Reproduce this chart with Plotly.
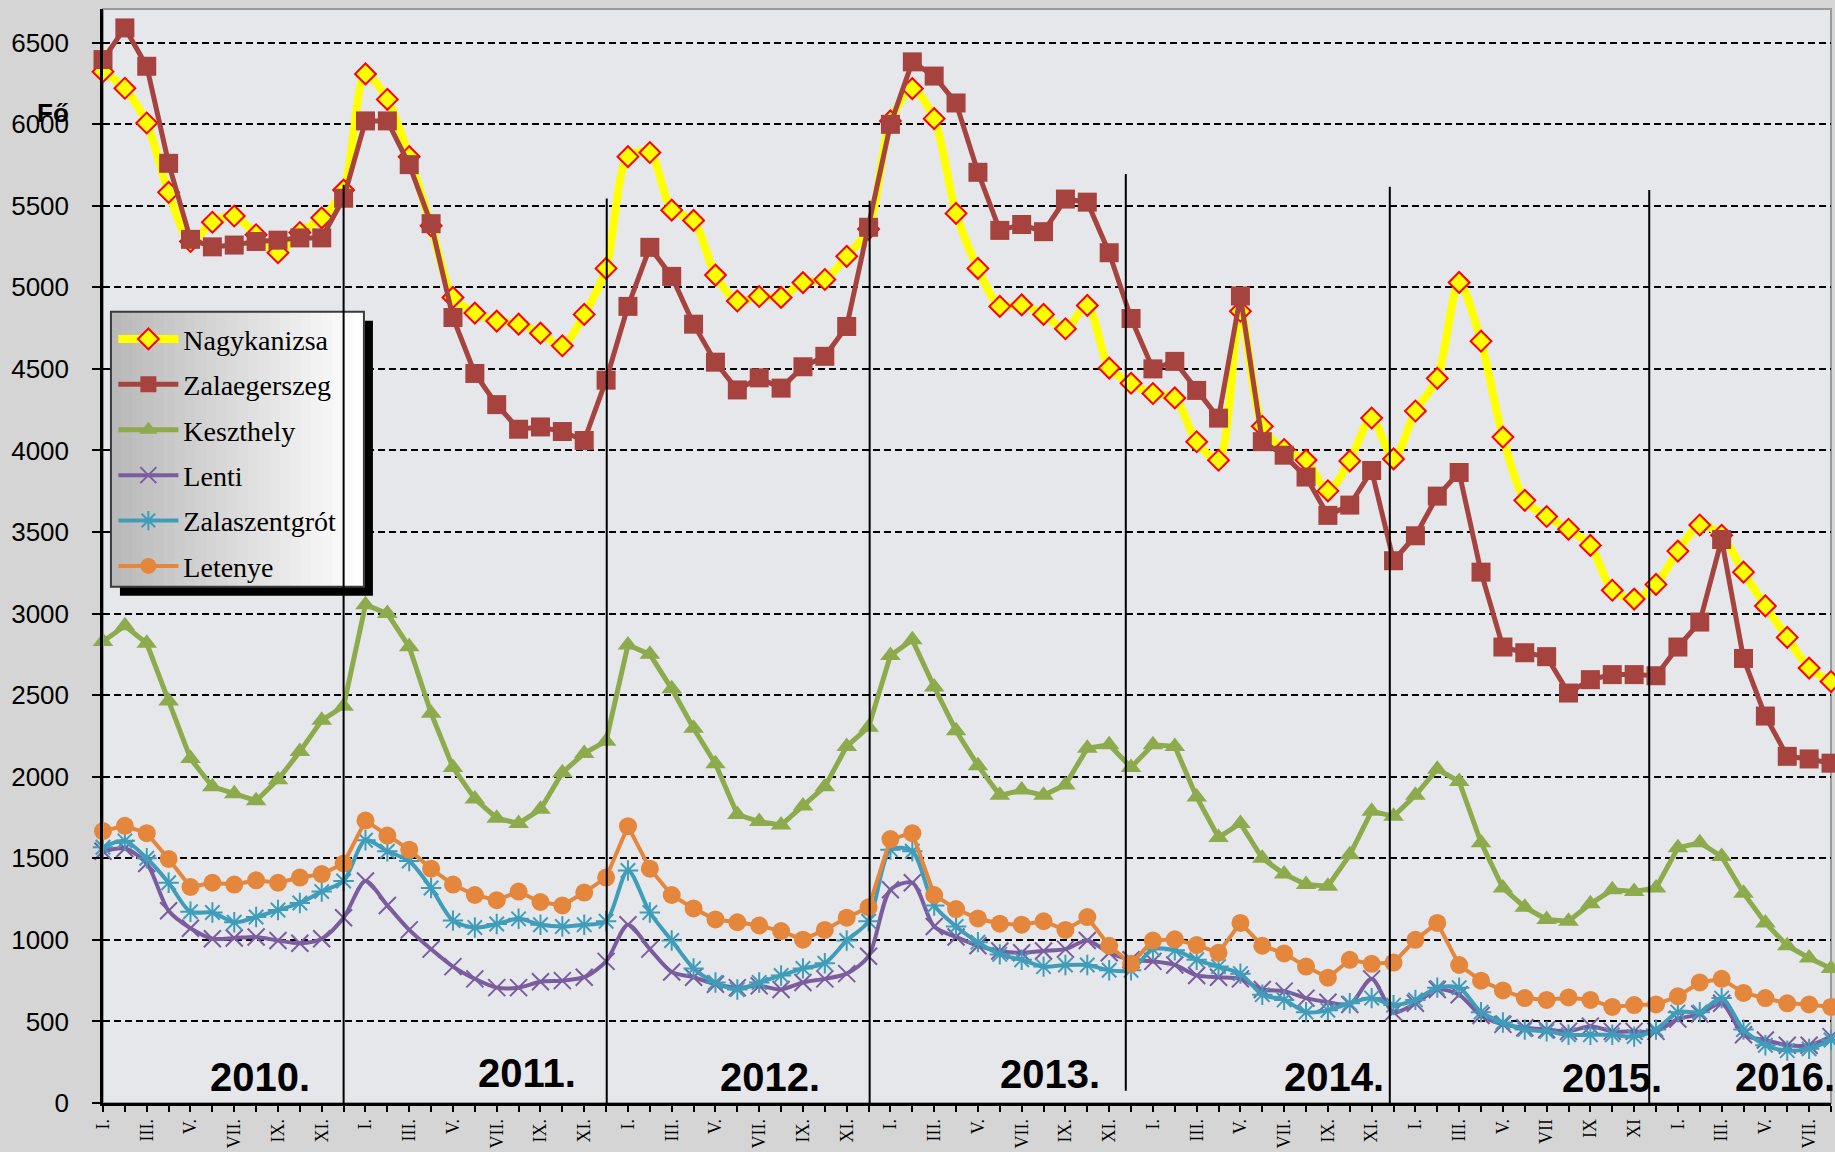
import plotly.graph_objects as go

# havi álláskeresők száma (fő), 2010. I. - 2016. VIII.
years = ["2010", "2011", "2012", "2013", "2014", "2015", "2016"]
months = ["I", "II", "III", "IV", "V", "VI", "VII", "VIII", "IX", "X", "XI", "XII"]
categories = [f"{y}-{m}" for y in years for m in months][:80]

labels_std = ["I.", "", "III.", "", "V.", "", "VII.", "", "IX.", "", "XI.", ""]
labels_2015 = ["I.", "", "III.", "", "V.", "", "VII", "", "IX", "", "XI", ""]
labels_2016 = ["I.", "", "III.", "", "V.", "", "VII.", ""]
tick_labels = labels_std * 5 + labels_2015 + labels_2016

nagykanizsa = [6322, 6220, 6007, 5582, 5281, 5399, 5437, 5322, 5212, 5336, 5426, 5596,
               6308, 6152, 5801, 5377, 4938, 4842, 4793, 4774, 4719, 4642, 4834, 5116,
               5801, 5826, 5473, 5410, 5075, 4916, 4944, 4938, 5029, 5048, 5190, 5357,
               6020, 6218, 6034, 5453, 5116, 4883, 4892, 4834, 4746, 4889, 4505, 4412,
               4349, 4322, 4053, 3940, 4853, 4148, 4006, 3941, 3752, 3936, 4199, 3948,
               4242, 4442, 5030, 4670, 4082, 3694, 3595, 3517, 3418, 3143, 3089, 3179,
               3383, 3543, 3480, 3254, 3047, 2854, 2666, 2584]
zalaegerszeg = [6396, 6590, 6355, 5760, 5294, 5248, 5259, 5281, 5289, 5303, 5303, 5546,
                6020, 6020, 5752, 5390, 4815, 4472, 4281, 4130, 4144, 4116, 4061, 4431,
                4883, 5245, 5067, 4774, 4541, 4371, 4445, 4382, 4513, 4577, 4760, 5368,
                5999, 6382, 6295, 6130, 5705, 5349, 5385, 5341, 5541, 5522, 5212, 4809,
                4500, 4546, 4368, 4198, 4947, 4054, 3971, 3837, 3602, 3665, 3877, 3324,
                3477, 3720, 3865, 3254, 2795, 2760, 2736, 2513, 2595, 2626, 2626, 2619,
                2795, 2948, 3454, 2725, 2372, 2125, 2109, 2083]
keszthely = [2829, 2925, 2818, 2464, 2111, 1939, 1896, 1853, 1982, 2154, 2346, 2432,
             3054, 3000, 2796, 2389, 2057, 1864, 1746, 1714, 1800, 2025, 2143, 2218,
             2807, 2750, 2539, 2297, 2079, 1768, 1725, 1704, 1821, 1939, 2186, 2304,
             2743, 2839, 2550, 2282, 2068, 1886, 1918, 1886, 1950, 2175, 2196, 2057,
             2196, 2186, 1875, 1628, 1714, 1500, 1403, 1339, 1329, 1521, 1789, 1757,
             1886, 2046, 1971, 1596, 1318, 1200, 1125, 1114, 1221, 1307, 1296, 1318,
             1564, 1596, 1511, 1286, 1104, 964, 889, 825]
lenti = [1543, 1560, 1468, 1178, 1071, 1007, 1011, 1018, 996, 979, 1007, 1136,
         1361, 1211, 1061, 943, 836, 761, 707, 707, 743, 750, 771, 868,
         1093, 943, 803, 771, 728, 707, 718, 696, 739, 761, 793, 900,
         1307, 1350, 1082, 1018, 964, 932, 921, 932, 943, 996, 921, 878,
         868, 846, 782, 771, 761, 696, 686, 643, 618, 604, 761, 557,
         611, 696, 664, 536, 482, 461, 450, 439, 471, 439, 439, 439,
         514, 546, 611, 418, 386, 354, 354, 407]
zalaszentgrot = [1568, 1607, 1500, 1350, 1172, 1168, 1108, 1140, 1183, 1226, 1296, 1361,
                 1611, 1543, 1483, 1318, 1118, 1076, 1097, 1129, 1093, 1082, 1093, 1114,
                 1425, 1168, 996, 825, 739, 696, 739, 782, 825, 857, 996, 1114,
                 1553, 1543, 1211, 1082, 986, 911, 878, 836, 846, 846, 814, 814,
                 943, 936, 878, 836, 793, 664, 632, 557, 568, 611, 643, 600,
                 632, 707, 707, 557, 493, 450, 439, 418, 418, 418, 407, 450,
                 557, 557, 643, 450, 354, 321, 332, 386]
letenye = [1667, 1699, 1654, 1496, 1324, 1350, 1339, 1365, 1350, 1382, 1403, 1468,
           1731, 1639, 1553, 1436, 1339, 1275, 1243, 1296, 1232, 1211, 1290, 1382,
           1697, 1436, 1275, 1193, 1125, 1108, 1088, 1054, 1001, 1061, 1136, 1200,
           1618, 1654, 1275, 1189, 1131, 1099, 1093, 1114, 1061, 1140, 964, 853,
           996, 1003, 968, 921, 1104, 964, 917, 836, 768, 878, 853, 861,
           1000, 1104, 846, 750, 690, 643, 632, 647, 632, 589, 600, 604,
           654, 739, 761, 675, 643, 611, 604, 589]

year_labels = ["2010.", "2011.", "2012.", "2013.", "2014.", "2015.", "2016."]
year_label_x = [7.2, 19.4, 30.5, 43.3, 56.3, 69.0, 76.9]
year_label_y = [160, 185, 160, 180, 160, 155, 160]
separator_x = [11, 23.03, 35.05, 46.76, 58.83, 70.69]
separator_top = [5628, 5544, 5530, 5695, 5617, 5597]
separator_bottom = [0, 0, 0, 75, 0, 0]

fig = go.Figure()

series = [
    ("Nagykanizsa", nagykanizsa, "#FFFF00", 8, "spline",
     dict(symbol="diamond", size=16, color="#FFFF00", line=dict(color="#FF0000", width=2))),
    ("Zalaegerszeg", zalaegerszeg, "#A6433F", 5, "linear",
     dict(symbol="square", size=19, color="#A6433F")),
    ("Keszthely", keszthely, "#8DAB4C", 5, "linear",
     dict(symbol="triangle-up", size=18, color="#8DAB4C")),
    ("Lenti", lenti, "#7A5C9F", 4, "spline",
     dict(symbol="x-thin-open", size=17, color="#7A5C9F", line=dict(color="#7A5C9F", width=2))),
    ("Zalaszentgrót", zalaszentgrot, "#3F9DBA", 4, "spline",
     dict(symbol="asterisk-open", size=17, color="#3F9DBA", line=dict(color="#3F9DBA", width=2))),
    ("Letenye", letenye, "#E4873D", 4, "linear",
     dict(symbol="circle", size=18, color="#E4873D")),
]

for name, values, color, width, shape, marker in series:
    fig.add_trace(go.Scatter(
        x=categories, y=values, name=name, legendgroup=name,
        mode="lines+markers",
        line=dict(color=color, width=width, shape=shape, smoothing=0.8),
        marker=marker, cliponaxis=False,
    ))

shapes = []

# jelmagyarázat árnyéka és átmenetes háttere
lx0, lx1, ly0, ly1 = 0.0046, 0.1510, 0.4719, 0.7232
shapes.append(dict(type="rect", xref="paper", yref="paper", x0=lx0 + 0.0052, x1=lx1 + 0.0052,
                   y0=ly0 - 0.0082, y1=ly1 - 0.0082, fillcolor="#000000", line_width=0, layer="above"))
n_strips = 24
for k in range(n_strips):
    g = int(185 + (255 - 185) * k / (n_strips - 1))
    shapes.append(dict(type="rect", xref="paper", yref="paper",
                       x0=lx0 + (lx1 - lx0) * k / n_strips, x1=lx0 + (lx1 - lx0) * (k + 1) / n_strips + 0.0005,
                       y0=ly0, y1=ly1, fillcolor=f"rgb({g},{g},{g})", line_width=0, layer="above"))
shapes.append(dict(type="rect", xref="paper", yref="paper", x0=lx0, x1=lx1, y0=ly0, y1=ly1,
                   line=dict(color="#3a3a3a", width=2), layer="above"))

# éveket elválasztó függőleges vonalak
for sx, top, bottom in zip(separator_x, separator_top, separator_bottom):
    shapes.append(dict(type="line", xref="x", yref="y", x0=sx, x1=sx, y0=bottom, y1=top,
                       line=dict(color="#000000", width=2), layer="above"))

# keret
shapes.append(dict(type="rect", xref="paper", yref="paper", x0=0, x1=1, y0=0, y1=1,
                   line=dict(color="#9a9a9a", width=2), layer="below"))

annotations = [dict(x=x, y=y, xref="x", yref="y", text=t, showarrow=False,
                    font=dict(family="Liberation Sans, Arial", size=40, color="#000000", weight="bold"),
                    xanchor="center", yanchor="middle")
               for t, x, y in zip(year_labels, year_label_x, year_label_y)]
annotations.append(dict(x=-0.029, y=6070, xref="paper", yref="y", text="Fő", showarrow=False,
                        font=dict(family="Liberation Sans, Arial", size=26, color="#000000", weight="bold"),
                        xanchor="center", yanchor="middle"))

fig.update_layout(
    width=1835, height=1152,
    margin=dict(l=103, r=4, t=9, b=48.5, autoexpand=False),
    paper_bgcolor="#d5d5d5",
    plot_bgcolor="#e6e7eb",
    showlegend=True,
    legend=dict(x=0.006, y=0.721, xanchor="left", yanchor="top",
                bgcolor="rgba(0,0,0,0)", borderwidth=0,
                traceorder="grouped", tracegroupgap=6, itemwidth=60,
                font=dict(family="Liberation Serif, Times New Roman", size=28, color="#000000")),
    xaxis=dict(type="category", range=[0, 79], autorange=False,
               tickmode="array", tickvals=categories, ticktext=tick_labels,
               tickangle=-90, ticks="outside", ticklen=6, tickwidth=1.5, tickcolor="#000000",
               tickfont=dict(family="Liberation Serif, Times New Roman", size=18, color="#000000"),
               showline=True, linecolor="#000000", linewidth=2.5, showgrid=False, automargin=False),
    yaxis=dict(range=[0, 6706], autorange=False, tickmode="linear", tick0=0, dtick=500,
               ticks="outside", ticklen=8, tickwidth=1.5, tickcolor="#000000", ticklabelstandoff=18,
               tickfont=dict(family="Liberation Sans, Arial", size=26, color="#000000"),
               showline=True, linecolor="#000000", linewidth=2.5,
               showgrid=True, gridcolor="#000000", gridwidth=1.6, griddash="7px,4px",
               zeroline=False, automargin=False),
    shapes=shapes,
    annotations=annotations,
)

fig.write_html("out.html", config={"displayModeBar": False},
               post_script="document.body.style.margin='0';")
